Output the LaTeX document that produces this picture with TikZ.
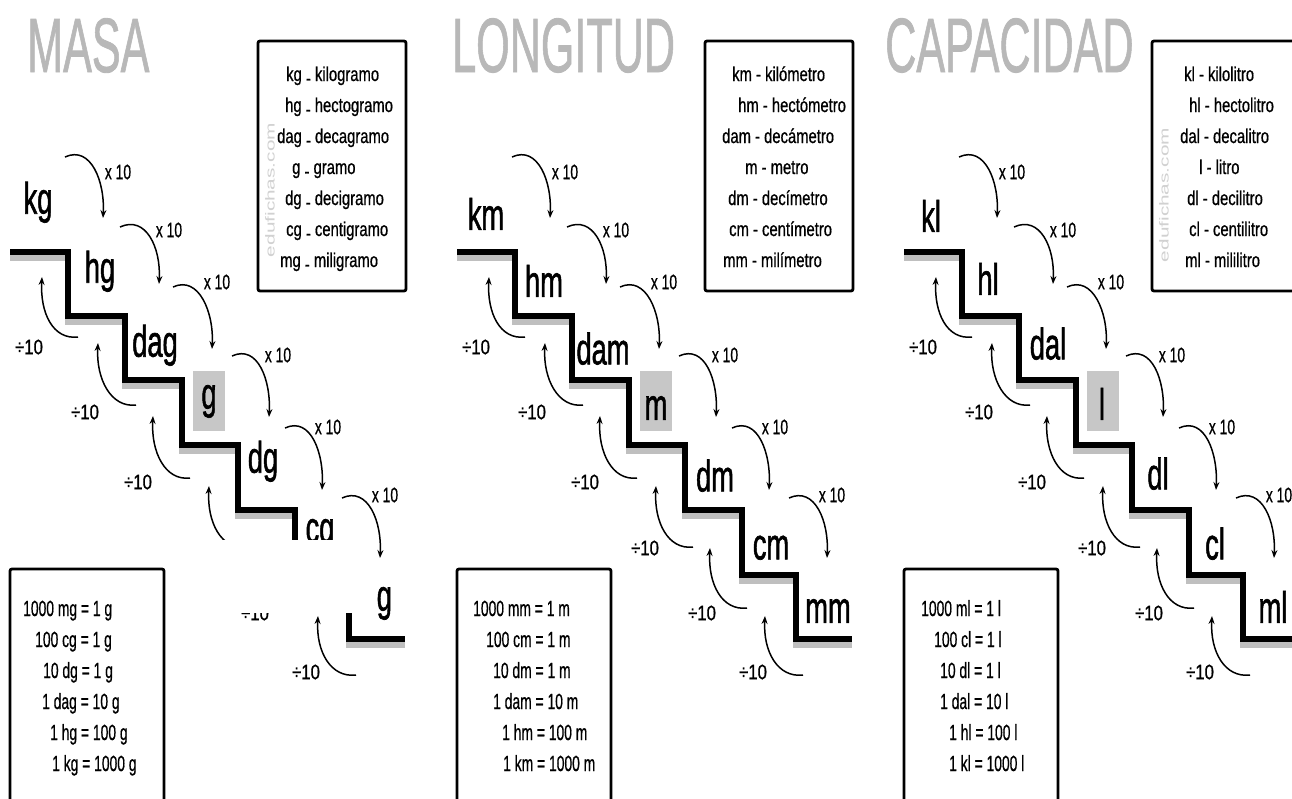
\documentclass[tikz,border=0pt]{standalone}
\usepackage{fontspec}
\setmainfont{Liberation Sans}
\newfontfamily\labfont[FakeBold=0.8]{Liberation Sans}
\newfontfamily\unitfont[FakeBold=1.6]{Liberation Sans}
\newfontfamily\titlefont[FakeBold=1.2]{Liberation Sans}
\usetikzlibrary{arrows.meta}
\newcommand\hsq[2]{\scalebox{#1}[1]{#2}}
\newcommand\lowdash{\raisebox{-4pt}{-}}
\newcommand\panelcommon[1]{%
  % staircase shadow and line
  \draw[stairshadow,yshift=-6pt] (10,252) -| (68,316) -| (125,380) -| (182,445) -| (238,510) -| (295,575) -| (349,639) -- (405,639);
  \draw[stairline] (10,252) -| (68,316) -| (125,380) -| (182,445) -| (238,510) -| (295,575) -| (349,639) -- (405,639);
  % highlighted unit box
  \fill[unitbox] (193,371) rectangle (225,431);
  % info boxes
  \draw[infobox] (258,41) rectangle (406,291);
  \draw[infobox] (10,569) rectangle (164,806);
  % x 10 arrows
  \foreach \i/\sx/\sy/\tx/\ty/\lx/\ly in {1/65/157/103/218/118/172, 2/120/227/159/284/169/230, 3/173/287/212/349/217/282, 4/232/356/269/417/278/355, 5/285/428/322/490/328/427, 6/342/498/380/558/385/495}{
    \coordinate (#1xs\i) at (\sx,\sy);
    \coordinate (#1xt\i) at (\tx,\ty);
    \draw[convarrow] (#1xs\i) .. controls +(26,-12) and +(2,-36) .. (#1xt\i);
    \node[oplab] (#1xl\i) at (\lx,\ly) {\hsq{0.66}{x 10}};
  }
  % divide arrows
  \foreach \i/\tx/\ty/\ex/\ey/\lx/\ly in {1/42/277/78/337/29/347, 2/98/343/136/405/85/412, 3/153/416/190/478/138/482, 4/209/486/246/547/198/548, 5/263/548/300/608/255/613, 6/318/616/356/675/306/672}{
    \coordinate (#1dt\i) at (\tx,\ty);
    \coordinate (#1de\i) at (\ex,\ey);
    \draw[convarrow] (#1de\i) .. controls +(-25,3) and +(-2,36) .. (#1dt\i);
    \node[oplab] (#1dl\i) at (\lx,\ly) {\hsq{0.8}{÷10}};
  }
}
\begin{document}
\begin{tikzpicture}[x=1pt,y=-1pt,
  title/.style={text=black!28,font=\titlefont\fontsize{77}{77}\selectfont,anchor=base west,inner sep=0},
  unitlab/.style={font=\unitfont\fontsize{44}{44}\selectfont,anchor=south,inner sep=0},
  boxtxt/.style={font=\labfont\fontsize{20}{20}\selectfont,anchor=base west,inner sep=0},
  eqtxt/.style={font=\labfont\fontsize{22}{22}\selectfont,anchor=base west,inner sep=0},
  oplab/.style={font=\labfont\fontsize{21}{21}\selectfont,inner sep=0},
  stairline/.style={line width=5.5pt,line join=miter},
  stairshadow/.style={line width=5.5pt,line join=miter,draw=black!25},
  convarrow/.style={line width=1.5pt,-{Stealth[length=8pt,width=6pt]}},
  infobox/.style={draw=black,line width=2.8pt,rounded corners=2pt},
  unitbox/.style={fill=black!22},
  wmark/.style={rotate=90,text=black!18,font=\fontsize{13}{13}\selectfont,inner sep=0}]
\useasboundingbox (0,0) rectangle (1292,798);
\clip (0,0) rectangle (1292,798);
\fill[white] (0,0) rectangle (1292,798);

% titles
\node[title] (tmasa) at (27,72) {\hsq{0.56}{MASA}};
\node[title] (tlong) at (452,72) {\hsq{0.56}{LONGITUD}};
\node[title] (tcap) at (885,72) {\hsq{0.56}{CAPACIDAD}};

% ---------------- MASA ----------------
\begin{scope}
  \panelcommon{a}
  \node[wmark] (awm) at (270,190) {\hsq{1.6}{edufichas.com}};
  \foreach \u/\x/\y [count=\k] in {kg/38/223, hg/100/292, dag/155/366, g/209/418, dg/263/482, cg/320/552, mg/373/620}
    \node[unitlab] (au\k) at (\x,\y) {\hsq{0.62}{\u}};
  \foreach \x/\u/\n [count=\k] in {286/kg/kilogramo, 285/hg/hectogramo, 277/dag/decagramo, 292/g/gramo, 285/dg/decigramo, 286/cg/centigramo, 280/mg/miligramo}
    \node[boxtxt] (ab\k) at (\x,{50+31*\k}) {\hsq{0.74}{\u{} \lowdash{} \n}};
  \foreach \x/\t [count=\k] in {23/1000 mg = 1 g, 35/100 cg = 1 g, 43/10 dg = 1 g, 42/1 dag = 10 g, 50/1 hg = 100 g, 52/1 kg = 1000 g}
    \node[eqtxt] (ae\k) at (\x,{585+31*\k}) {\hsq{0.63}{\t}};
  % white patch that hides part of the staircase
  \fill[white] (172,540) rectangle (376,613);
\end{scope}

% ---------------- LONGITUD ----------------
\begin{scope}[xshift=447pt]
  \panelcommon{b}
  \foreach \u/\x/\y [count=\k] in {km/39/230, hm/97/297, dam/156/365, m/209/420, dm/268/492, cm/324/560, mm/381/623}
    \node[unitlab] (bu\k) at (\x,\y) {\hsq{0.62}{\u}};
  \foreach \x/\u/\n [count=\k] in {285/km/kilómetro, 291/hm/hectómetro, 275/dam/decámetro, 298/m/metro, 281/dm/decímetro, 282/cm/centímetro, 276/mm/milímetro}
    \node[boxtxt] (bb\k) at (\x,{50+31*\k}) {\hsq{0.74}{\u{} - \n}};
  \foreach \x/\t [count=\k] in {26/1000 mm = 1 m, 39/100 cm = 1 m, 46/10 dm = 1 m, 46/1 dam = 10 m, 55/1 hm = 100 m, 56/1 km = 1000 m}
    \node[eqtxt] (be\k) at (\x,{585+31*\k}) {\hsq{0.63}{\t}};
\end{scope}

% ---------------- CAPACIDAD ----------------
\begin{scope}[xshift=894pt]
  \panelcommon{c}
  \node[wmark] (cwm) at (270,195) {\hsq{1.6}{edufichas.com}};
  \foreach \u/\x/\y [count=\k] in {kl/37/232, hl/94/295, dal/154/360, l/208/420, dl/264/490, cl/321/560, ml/379/623}
    \node[unitlab] (cu\k) at (\x,\y) {\hsq{0.62}{\u}};
  \foreach \x/\u/\n [count=\k] in {290/kl/kilolitro, 295/hl/hectolitro, 286/dal/decalitro, 305/l/litro, 293/dl/decilitro, 295/cl/centilitro, 291/ml/mililitro}
    \node[boxtxt] (cb\k) at (\x,{50+31*\k}) {\hsq{0.74}{\u{} - \n}};
  \foreach \x/\t [count=\k] in {27/1000 ml = 1 l, 40/100 cl = 1 l, 46/10 dl = 1 l, 46/1 dal = 10 l, 55/1 hl = 100 l, 55/1 kl = 1000 l}
    \node[eqtxt] (ce\k) at (\x,{585+31*\k}) {\hsq{0.63}{\t}};
\end{scope}
\end{tikzpicture}
\end{document}
